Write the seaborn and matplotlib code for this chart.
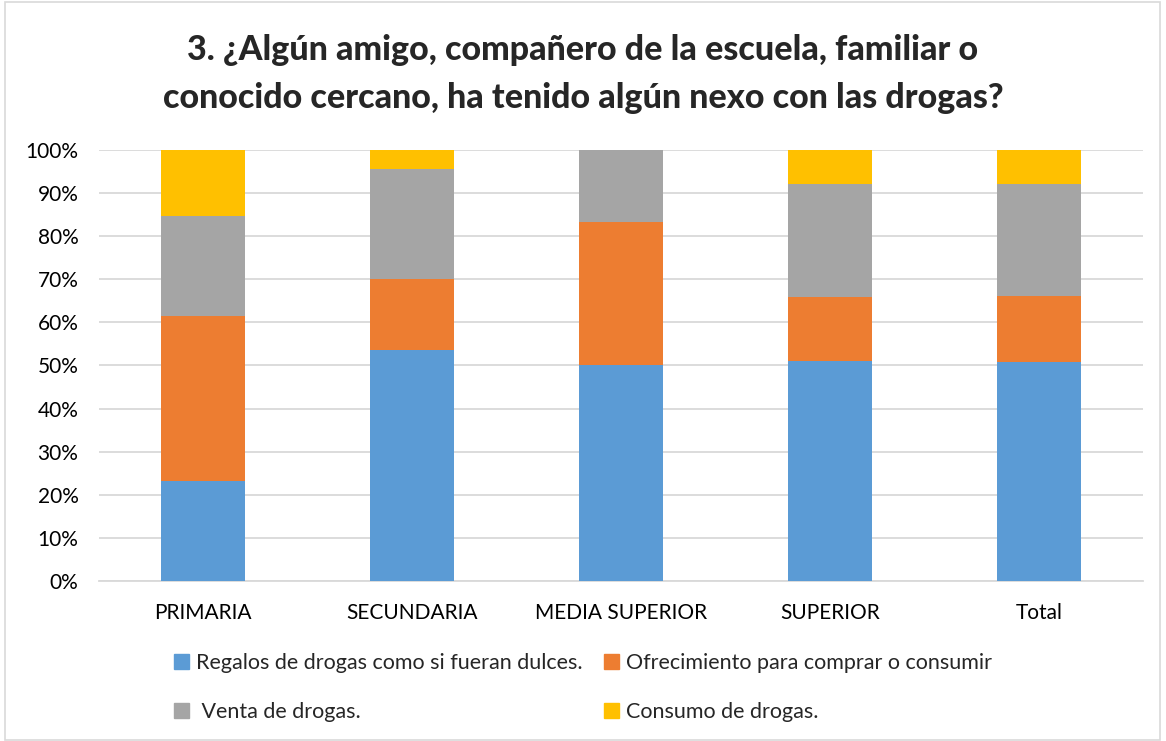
import matplotlib
matplotlib.use('Agg')
import matplotlib.pyplot as plt
import seaborn as sns
import numpy as np
from matplotlib.patches import Rectangle, Patch

sns.set_style('white')
plt.rcParams['font.family'] = ['Lato', 'DejaVu Sans']

# -------------------------------------------
# data (percent of each group)
# -------------------------------------------
categories = ['PRIMARIA', 'SECUNDARIA', 'MEDIA SUPERIOR', 'SUPERIOR', 'Total']
regalos = [23.1, 53.7, 50.0, 51.1, 50.9]
ofrecimiento = [38.4, 16.4, 33.4, 14.7, 15.3]
venta = [23.1, 25.4, 16.6, 26.2, 25.9]
consumo = [15.4, 4.5, 0.0, 8.0, 7.9]

series_names = ['Regalos de drogas como si fueran dulces.',
                'Ofrecimiento para comprar o consumir',
                ' Venta de drogas.',
                'Consumo de drogas.']
series_values = [regalos, ofrecimiento, venta, consumo]
colors = ['#5B9BD5', '#ED7D31', '#A5A5A5', '#FFC000']

fig = plt.figure(figsize=(11.66, 7.41), dpi=100)
ax = fig.add_axes([0.0845, 0.2159, 0.8962, 0.5817])

bottom = np.zeros(len(categories))
for name, vals, col in zip(series_names, series_values, colors):
    sns.barplot(x=categories, y=vals, bottom=bottom, color=col, width=0.4,
                saturation=1, linewidth=0, ax=ax, zorder=3)
    bottom = bottom + np.array(vals)

ax.set_ylim(0, 100)
ax.set_xlim(-0.5, 4.5)
ax.set_yticks(np.arange(0, 101, 10))
ax.set_yticklabels([f'{v}%' for v in range(0, 101, 10)])
ax.yaxis.grid(True, color='#D9D9D9', linewidth=1.3, zorder=0)
ax.set_axisbelow(True)
for s in ['left', 'right', 'top']:
    ax.spines[s].set_visible(False)
ax.spines['bottom'].set_color('#D9D9D9')
ax.spines['bottom'].set_linewidth(1.3)
ax.tick_params(axis='both', length=0, labelsize=15, colors='black')
ax.tick_params(axis='x', pad=16)
ax.tick_params(axis='y', pad=14.5)
ax.set_xlabel('')
ax.set_ylabel('')

fig.text(0.5, 0.954,
         '3. ¿Algún amigo, compañero de la escuela, familiar o\n'
         'conocido cercano, ha tenido algún nexo con las drogas?',
         ha='center', va='top', fontsize=24.5, fontweight='black',
         linespacing=1.6)

# legend: two columns, filled column-wise
handles = [Patch(color=c) for c in colors]
order = [0, 2, 1, 3]
fig.legend([handles[i] for i in order], [series_names[i] for i in order],
           ncol=2, loc='center', bbox_to_anchor=(0.5, 0.072), frameon=False,
           fontsize=15.5, handlelength=0.7, handleheight=0.7, handletextpad=0.3,
           columnspacing=1.0, labelspacing=1.35)

# outer chart border
fig.patches.append(Rectangle((0.004, 0.002), 0.991, 0.995, transform=fig.transFigure,
                             fill=False, edgecolor='#D9D9D9', linewidth=1.2))

plt.savefig('out.png', dpi=100)
